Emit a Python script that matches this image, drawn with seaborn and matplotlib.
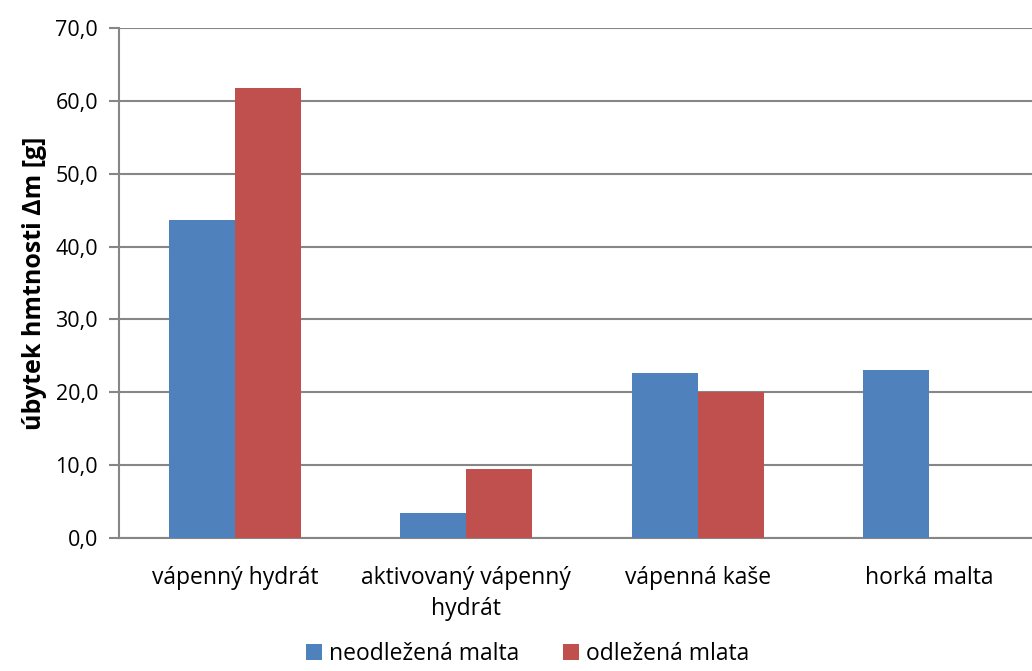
import matplotlib
matplotlib.use("Agg")
import matplotlib.pyplot as plt
import seaborn as sns
import pandas as pd
import numpy as np

categories = ["vápenný hydrát", "aktivovaný vápenný\nhydrát", "vápenná kaše", "horká malta"]
series_names = ["neodležená malta", "odležená mlata"]
neodlezena = [43.6, 3.5, 22.6, 23.1]
odlezena = [61.8, 9.5, 20.0, np.nan]
y_ticks = [0, 10, 20, 30, 40, 50, 60, 70]

df = pd.DataFrame({
    "kategorie": categories * 2,
    "serie": [series_names[0]] * 4 + [series_names[1]] * 4,
    "hodnota": neodlezena + odlezena,
})

sns.set_theme(style="white")
plt.rcParams["font.family"] = ["Open Sans", "DejaVu Sans"]
plt.rcParams["text.color"] = "#000000"

fig = plt.figure(figsize=(10.32, 6.71), dpi=100)
ax = fig.add_axes([119 / 1032, 133 / 671, 1 - 119 / 1032, 510 / 671])

palette = {series_names[0]: "#4F81BD", series_names[1]: "#C0504D"}
sns.barplot(data=df, x="kategorie", y="hodnota", hue="serie", palette=palette,
            width=0.57, dodge=True, saturation=1, ax=ax, legend=True, zorder=3,
            edgecolor="none")

ax.set_ylim(0, 70)
ax.set_xlim(-0.5, 3.443)
ax.set_yticks(y_ticks)
ax.set_yticklabels([f"{v:.1f}".replace(".", ",") for v in y_ticks], fontsize=15.5, color="#000000")
ax.set_xticks(range(len(categories)))
ax.set_xticklabels(categories, fontsize=16.5, color="#000000", linespacing=1.4)
ax.tick_params(axis="x", length=0, pad=20)
ax.tick_params(axis="y", length=7, width=1.5, color="#868686", direction="out", pad=8, left=True)

ax.grid(axis="y", color="#868686", linewidth=1.5, zorder=0)
ax.set_axisbelow(True)
for side in ["top", "right"]:
    ax.spines[side].set_visible(False)
for side in ["left", "bottom"]:
    ax.spines[side].set_color("#868686")
    ax.spines[side].set_linewidth(1.5)

ax.set_xlabel("")
ax.set_ylabel("úbytek hmtnosti Δm [g]", fontsize=18, fontweight="bold", labelpad=6,
              color="#000000")

handles, labels = ax.get_legend_handles_labels()
ax.get_legend().remove()
fig.legend(handles, labels, loc="lower center", bbox_to_anchor=(0.511, -0.024), ncol=2,
           frameon=False, fontsize=16.5, handlelength=0.7, handleheight=0.7,
           handletextpad=0.3, columnspacing=1.9, labelcolor="#000000")

fig.savefig("out.png", dpi=100)
